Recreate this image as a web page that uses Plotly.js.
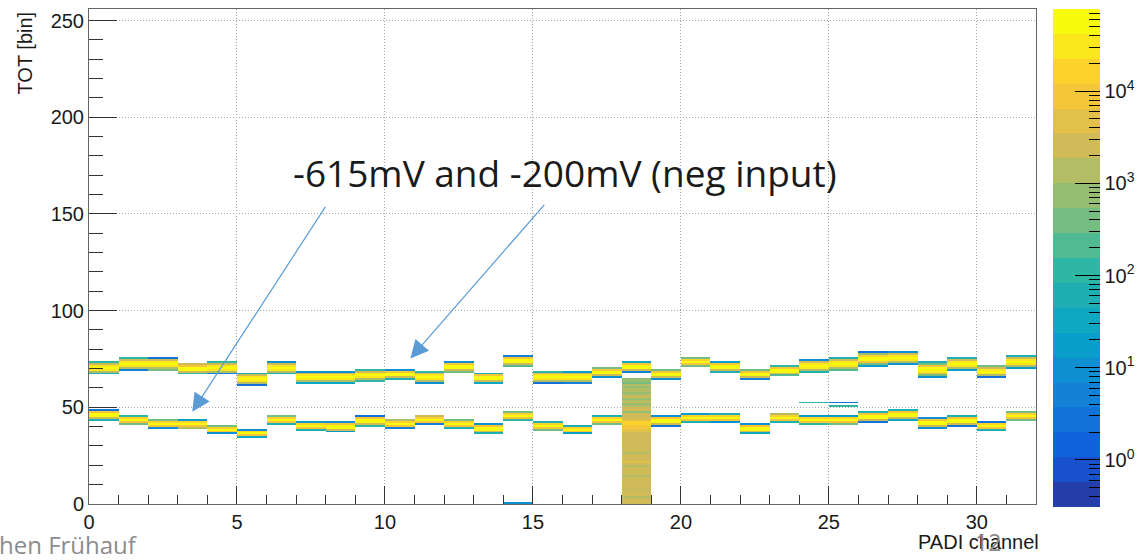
<!DOCTYPE html>
<html>
<head>
<meta charset="utf-8">
<script src="https://cdn.plot.ly/plotly-3.0.1.min.js"></script>
<style>
html,body{margin:0;padding:0;background:#fff;}
#chart{width:1144px;height:560px;}
</style>
</head>
<body>
<div id="chart"></div>
<script>
// ---------------- data ----------------
const channels = [0,1,2,3,4,5,6,7,8,9,10,11,12,13,14,15,16,17,18,19,20,21,22,23,24,25,26,27,28,29,30,31];
const nTotBins = 256;

// upper band (-200 mV): first TOT bin and number of bins
const upperStart = [67,69,69,67,67,61,67,62,62,63,64,62,68,62,71,62,62,65,68,64,71,68,64,66,68,69,71,72,65,69,65,70];
const upperLen   = [7,7,7,6,7,7,7,7,7,7,6,7,6,6,6,7,7,6,6,6,5,6,6,6,7,7,8,7,9,7,7,7];
const upperBottomEdge = [60,6,400,100,5,3,80,30,40,100,60,10,400,30,200,3,6,10,5,8,300,50,6,200,60,200,15,8,10,15,3,15];
const upperTopEdge    = [100,150,2,2000,100,60,8,10,10,100,10,100,8,60,6,100,15,300,40,300,400,15,300,100,8,60,3,8,80,60,300,60];

// lower band (-615 mV)
const lowerStart = [43,41,39,39,36,34,41,38,37,40,39,41,39,36,43,38,36,41,40,40,42,42,36,42,41,41,42,43,39,40,38,43];
const lowerLen   = [6,5,5,5,5,5,5,5,6,6,5,5,5,6,5,5,5,5,5,6,5,5,6,5,5,5,6,6,6,6,5,5];
const lowerBottomEdge = [50,400,10,1000,8,40,60,50,20,100,6,5,60,60,100,500,20,400,60,3,50,10,30,60,100,400,3,40,8,3,80,400];
const lowerTopEdge    = [2,100,300,15,500,10,300,15,10,3,1500,3000,300,10,400,60,60,60,60,10,15,50,8,1000,15,20,60,60,10,60,3,300];

// band interior profiles (counts, bottom to top), by interior length
const inner3 = [8000, 60000, 20000];
const inner4 = [3000, 45000, 60000, 8000];
const inner5 = [1000, 25000, 60000, 40000, 2500];
const inner6 = [400, 9000, 45000, 60000, 20000, 900];
const inner7 = [300, 5000, 30000, 60000, 50000, 9000, 500];

// channel 18: broad column, TOT bins 0..64
const col18Channel = 18;
const col18 = [2500,2000,2200,1800,2400,3000,2000,1800,2200,2600,
               1900,2100,3200,2000,1700,2300,2800,2000,2400,1800,
               2200,3500,2000,1900,2600,2100,1800,3000,2200,2000,
               2400,1900,2600,3200,2100,2000,2700,3500,5000,8000,
               12000,20000,15000,6000,3000,
               2200,1900,800,2000,2400,
               1600,700,2100,1800,900,2000,1500,600,1800,1200,
               700,1500,500,900,600];

// isolated entries: [channel, TOT bin, counts]
const extraCh    = [14, 24, 25, 25];
const extraBin   = [0, 52, 52, 50];
const extraCount = [8, 100, 3, 150];

// colour axis (log10 of counts)
const zMinLog = -0.51, zMaxLog = 4.89;
const cbMajorCounts = [1, 10, 100, 1000, 10000];
const cbMajorText = ['10<sup>0</sup>','10<sup>1</sup>','10<sup>2</sup>','10<sup>3</sup>','10<sup>4</sup>'];
const cbMinorCounts = [0.4,0.5,0.6,0.7,0.8,0.9,2,3,4,5,6,7,8,9,20,30,40,50,60,70,80,90,
                       200,300,400,500,600,700,800,900,2000,3000,4000,5000,6000,7000,8000,9000,
                       20000,30000,40000,50000,60000,70000];

// ---------------- build the histogram table ----------------
const innerByLen = {3:inner3,4:inner4,5:inner5,6:inner6,7:inner7};
const counts = [];
for (let b = 0; b < nTotBins; b++) counts.push(channels.map(() => null));
function fillBand(c, start, len, bot, top) {
  const inner = innerByLen[len - 2];
  counts[start][c] = bot;
  for (let k = 0; k < inner.length; k++) counts[start + 1 + k][c] = inner[k];
  counts[start + len - 1][c] = top;
}
channels.forEach((c) => {
  fillBand(c, upperStart[c], upperLen[c], upperBottomEdge[c], upperTopEdge[c]);
  if (c !== col18Channel) fillBand(c, lowerStart[c], lowerLen[c], lowerBottomEdge[c], lowerTopEdge[c]);
});
col18.forEach((v, b) => { counts[b][col18Channel] = v; });
extraCh.forEach((c, i) => { counts[extraBin[i]][c] = extraCount[i]; });
const zLog = counts.map(row => row.map(v => v === null ? null : Math.log10(v)));
const xCenters = channels.map(c => c + 0.5);
const yCenters = [];
for (let b = 0; b < nTotBins; b++) yCenters.push(b + 0.5);

// ---------------- ROOT kBird palette, 20 contour levels ----------------
const birdStops = [[0.2082,0.1664,0.5293],[0.0592,0.3599,0.8684],[0.0780,0.5041,0.8385],
  [0.0232,0.6419,0.7914],[0.1802,0.7178,0.6425],[0.5301,0.7492,0.4662],
  [0.8186,0.7328,0.3499],[0.9956,0.7862,0.1968],[0.9764,0.9832,0.0539]];
function bird(t) {
  const s = t * 8, i = Math.min(7, Math.floor(s)), f = s - i;
  const a = birdStops[i], b = birdStops[i + 1];
  const c = [0,1,2].map(k => Math.round(255 * (a[k] + (b[k] - a[k]) * f)));
  return 'rgb(' + c.join(',') + ')';
}
const nLevels = 20;
const colorscale = [];
for (let i = 0; i < nLevels; i++) {
  const col = bird((i + 1) / nLevels);
  colorscale.push([i / nLevels, col]);
  colorscale.push([(i + 1) / nLevels, col]);
}
const clearScale = [[0,'rgba(0,0,0,0)'],[1,'rgba(0,0,0,0)']];

const rootFont = {family: 'Liberation Sans, Arial, sans-serif', size: 20, color: '#1a1a1a'};

const cbCommon = {
  x: 1.018, xanchor: 'left', xpad: 0,
  y: 0.497, yanchor: 'middle', ypad: 0,
  thickness: 47, thicknessmode: 'pixels',
  len: 498, lenmode: 'pixels',
  ticks: 'inside', tickcolor: '#000', tickwidth: 1, outlinewidth: 0
};

// main histogram; its colour bar carries the labels and the short (minor) ticks
const allCbCounts = cbMinorCounts.concat(cbMajorCounts).sort((a, b) => a - b);
const histTrace = {
  type: 'heatmap',
  x: xCenters, y: yCenters, z: zLog,
  zmin: zMinLog, zmax: zMaxLog, zauto: false,
  colorscale: colorscale, zsmooth: false,
  hoverongaps: false,
  colorbar: Object.assign({}, cbCommon, {
    tickmode: 'array',
    tickvals: allCbCounts.map(v => Math.log10(v)),
    ticktext: allCbCounts.map(v => { const k = cbMajorCounts.indexOf(v); return k >= 0 ? cbMajorText[k] : ''; }),
    ticklen: 11, tickfont: rootFont
  })
};

// invisible helper: a transparent colour bar drawn on top that carries the long major ticks
const majorTickTrace = {
  type: 'scatter', mode: 'markers',
  x: [-10], y: [-10], hoverinfo: 'skip', cliponaxis: true,
  marker: {
    color: [0], cmin: zMinLog, cmax: zMaxLog, colorscale: clearScale, showscale: true, size: 1,
    colorbar: Object.assign({}, cbCommon, {
      tickmode: 'array', tickvals: cbMajorCounts.map(v => Math.log10(v)),
      ticklen: 25, showticklabels: false
    })
  }
};

const arrowStyle = {xref: 'x', yref: 'y', axref: 'x', ayref: 'y', text: '', showarrow: true,
  arrowhead: 2, arrowsize: 3, arrowwidth: 1.2, arrowcolor: '#5b9bd5', standoff: 0};

const layout = {
  width: 1144, height: 560,
  margin: {l: 89, r: 108, t: 9, b: 56, autoexpand: false},
  paper_bgcolor: '#fff', plot_bgcolor: '#fff',
  font: rootFont,
  showlegend: false,
  xaxis: {
    range: [0, 32], tick0: 0, dtick: 5, ticks: 'inside', ticklen: 18, tickcolor: '#333',
    minor: {ticks: 'inside', ticklen: 9, dtick: 1, tick0: 0, tickcolor: '#333', showgrid: false},
    showgrid: true, gridcolor: '#a8a8a8', griddash: '1px,2px', gridwidth: 1,
    showline: true, mirror: true, linecolor: '#666', linewidth: 1, zeroline: false,
    tickfont: rootFont, automargin: false
  },
  yaxis: {
    range: [0, 256], tick0: 0, dtick: 50, ticks: 'inside', ticklen: 28, tickcolor: '#333',
    minor: {ticks: 'inside', ticklen: 14, dtick: 10, tick0: 0, tickcolor: '#333', showgrid: false},
    showgrid: true, gridcolor: '#a8a8a8', griddash: '1px,2px', gridwidth: 1,
    showline: true, mirror: true, linecolor: '#666', linewidth: 1, zeroline: false,
    tickfont: rootFont, automargin: false
  },
  annotations: [
    {xref: 'paper', yref: 'paper', x: -0.0676, y: 1.0, xanchor: 'center', yanchor: 'top',
     text: 'TOT [bin]', textangle: -90, showarrow: false, font: rootFont},
    {xref: 'paper', yref: 'paper', x: 1.005, y: -0.05, xanchor: 'right', yanchor: 'top',
     text: 'PADI channel', showarrow: false, font: rootFont},
    {xref: 'paper', yref: 'paper', x: 0.5026, y: 0.6707, xanchor: 'center', yanchor: 'middle',
     text: '-615mV and -200mV (neg input)', showarrow: false,
     font: {family: 'Open Sans, sans-serif', size: 37, color: '#1a1a1a'}},
    Object.assign({}, arrowStyle, {x: 3.49, y: 47.7, ax: 8.02, ay: 154.4}),
    Object.assign({}, arrowStyle, {x: 10.86, y: 75.3, ax: 15.43, ay: 155.5}),
    {xref: 'paper', yref: 'paper', x: -0.097, y: -0.081, xanchor: 'left', yanchor: 'middle',
     text: 'hen Frühauf', showarrow: false,
     font: {family: 'Open Sans, sans-serif', size: 24, color: '#8c8c8c'}},
    {xref: 'paper', yref: 'paper', x: 0.949, y: -0.077, xanchor: 'center', yanchor: 'middle',
     text: '12', showarrow: false,
     font: {family: 'Open Sans, sans-serif', size: 23, color: '#8c8c8c'}}
  ]
};

Plotly.newPlot('chart', [histTrace, majorTickTrace], layout, {displayModeBar: false, staticPlot: true});
</script>
</body>
</html>
